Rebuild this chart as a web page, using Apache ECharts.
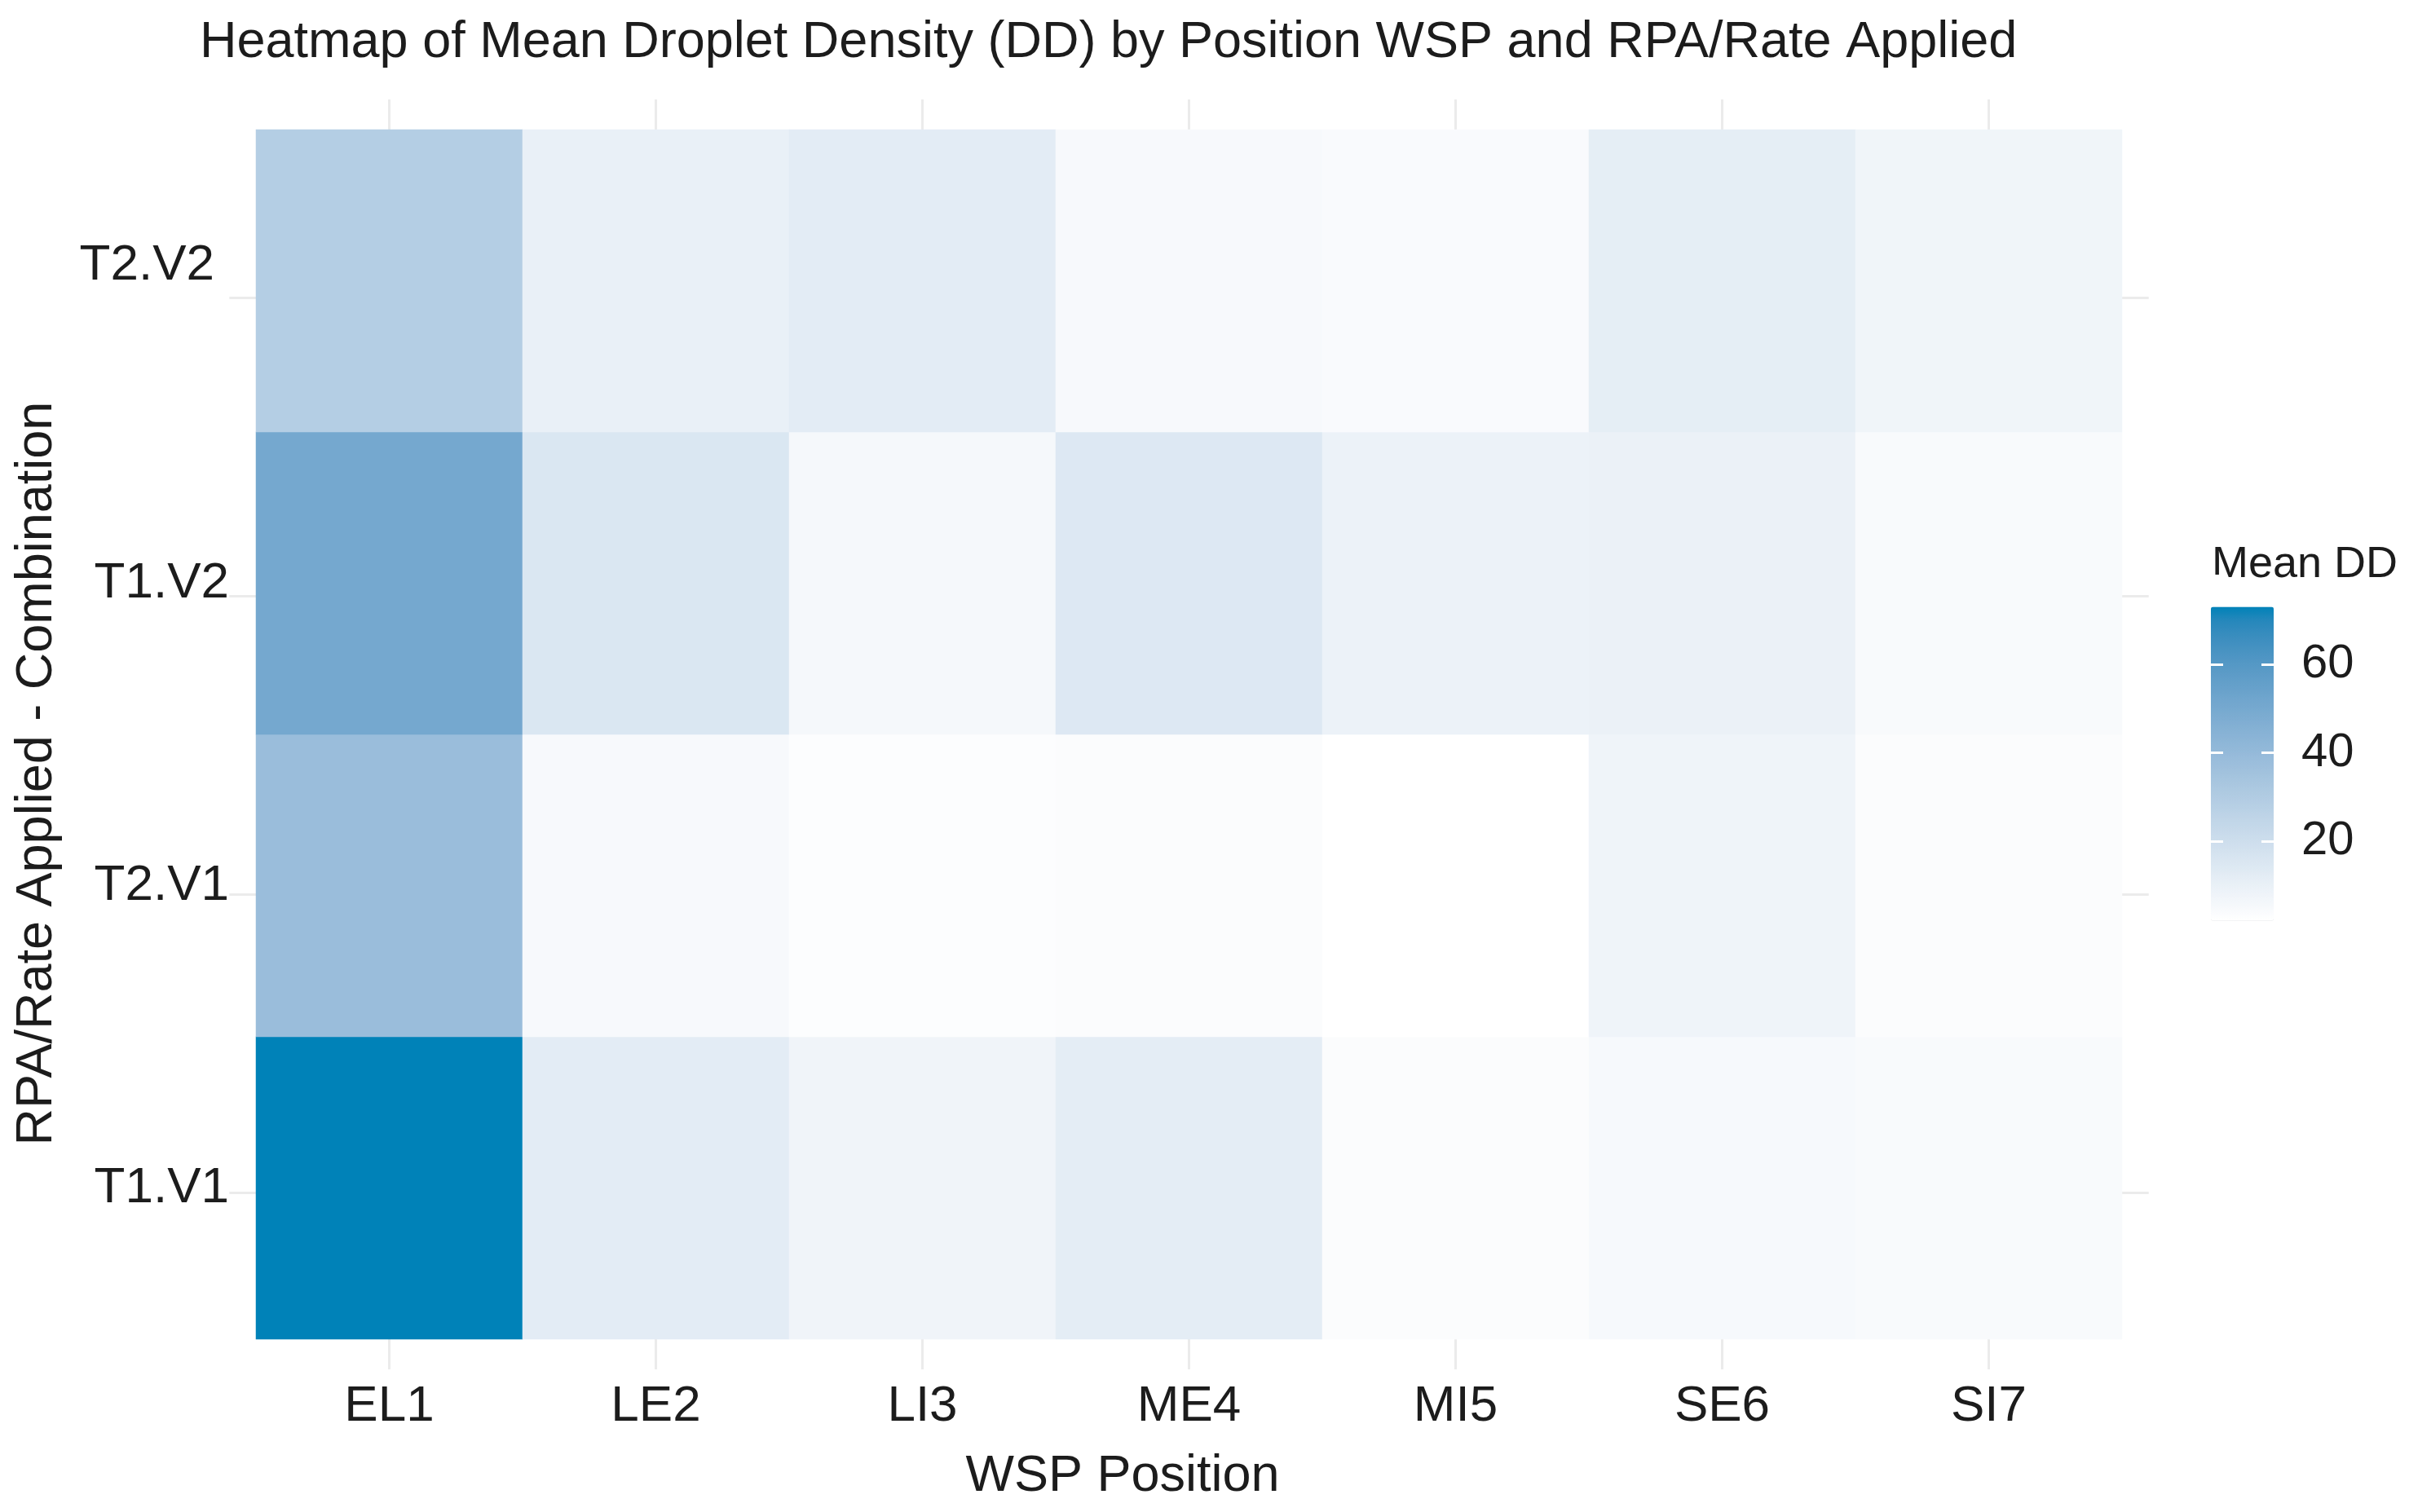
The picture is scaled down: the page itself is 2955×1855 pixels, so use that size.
<!DOCTYPE html>
<html><head><meta charset="utf-8">
<script src="https://cdn.jsdelivr.net/npm/echarts@6/dist/echarts.min.js"></script>
<style>html,body{margin:0;padding:0;background:#fff}#c{width:2955px;height:1855px}</style>
</head><body><div id="c"></div>
<script>
// ---- data ----
const xCats = ['EL1', 'LE2', 'LI3', 'ME4', 'MI5', 'SE6', 'SI7'];
const yCats = ['T1.V1', 'T2.V1', 'T1.V2', 'T2.V2'];
const ddT1V1 = [73.0, 12.2, 7.7, 11.7, 3.5, 5.2, 4.6];
const ddT2V1 = [38.3, 4.8, 3.1, 3.6, 2.0, 8.1, 3.6];
const ddT1V2 = [50.3, 15.2, 5.8, 14.2, 9.2, 9.4, 4.7];
const ddT2V2 = [28.9, 10.2, 12.2, 4.8, 4.3, 11.5, 7.6];
const legendTicks = [20, 40, 60];

const rows = [ddT1V1, ddT2V1, ddT1V2, ddT2V2];
const heatData = [];
rows.forEach((row, yi) => row.forEach((v, xi) => heatData.push([xi, yi, v])));
const allVals = rows.flat();
const dmin = Math.min(...allVals), dmax = Math.max(...allVals);

// ---- colour scale (Lab interpolation, white -> blue) ----
function lin(c){c/=255;return c<=0.04045?c/12.92:Math.pow((c+0.055)/1.055,2.4);}
function unlin(v){v=v<=0.0031308?12.92*v:1.055*Math.pow(v,1/2.4)-0.055;return Math.max(0,Math.min(255,Math.round(v*255)));}
function toLab(rgb){const r=lin(rgb[0]),g=lin(rgb[1]),b=lin(rgb[2]);
  let X=(0.4124*r+0.3576*g+0.1805*b)/0.95047,Y=0.2126*r+0.7152*g+0.0722*b,Z=(0.0193*r+0.1192*g+0.9505*b)/1.08883;
  const f=t=>t>0.008856?Math.cbrt(t):7.787*t+16/116;
  const fx=f(X),fy=f(Y),fz=f(Z);return [116*fy-16,500*(fx-fy),200*(fy-fz)];}
function fromLab(L){const fy=(L[0]+16)/116,fx=fy+L[1]/500,fz=fy-L[2]/200;
  const fi=t=>t*t*t>0.008856?t*t*t:(t-16/116)/7.787;
  const X=fi(fx)*0.95047,Y=fi(fy),Z=fi(fz)*1.08883;
  const r=3.2406*X-1.5372*Y-0.4986*Z,g=-0.9689*X+1.8758*Y+0.0415*Z,b=0.0557*X-0.2040*Y+1.0570*Z;
  return 'rgb('+unlin(r)+','+unlin(g)+','+unlin(b)+')';}
const lowLab=toLab([255,255,255]), highLab=toLab([0,130,184]);
const stops=[];
for(let i=0;i<=24;i++){const t=i/24;stops.push(fromLab([0,1,2].map(k=>lowLab[k]+(highLab[k]-lowLab[k])*t)));}

// ---- layout ----
const FONT = '"Liberation Sans", Arial, sans-serif';
const TXT = '#1c1c1c';
const GRID_COL = '#ebebeb';
const tileL = 314, tileT = 159, tileW = 2289, tileH = 1484;
const cw = tileW / xCats.length, ch = tileH / yCats.length;
const panelL = tileL - 0.1*cw, panelR = tileL + tileW + 0.1*cw;
const panelT = tileT - 0.1*ch, panelB = tileT + tileH + 0.1*ch;
// legend axis 0..80
const legTop = 706.5, legH = 434, legL = 2712, legW = 77;
const vy = v => legTop + (80 - v) / 80 * legH;

const chart = echarts.init(document.getElementById('c'), null, {renderer: 'canvas'});
chart.setOption({
  backgroundColor: '#fff',
  animation: false,
  title: {
    text: 'Heatmap of Mean Droplet Density (DD) by Position WSP and RPA/Rate Applied',
    left: 245, top: 21, padding: 0,
    textStyle: {fontSize: 63, fontWeight: 'normal', color: TXT, fontFamily: FONT}
  },
  grid: [
    {left: tileL - cw/2, width: cw * (xCats.length + 1), top: panelT, height: panelB - panelT},
    {left: panelL, width: panelR - panelL, top: tileT - ch/2, height: ch * (yCats.length + 1)},
    {left: tileL, top: tileT, width: tileW, height: tileH},
    {left: legL, top: legTop, width: legW, height: legH}
  ],
  xAxis: [
    {gridIndex: 0, type: 'category', boundaryGap: false,
     data: Array.from({length: xCats.length + 2}, (_, i) => 'gx' + i),
     axisLine: {show: false}, axisTick: {show: false}, axisLabel: {show: false},
     splitLine: {show: true, interval: (i) => i >= 1 && i <= xCats.length, lineStyle: {color: GRID_COL, width: 3}}},
    {gridIndex: 1, type: 'value', min: 0, max: 1, show: false, splitLine: {show: false}},
    {gridIndex: 2, type: 'category', data: xCats,
     axisLine: {show: false}, axisTick: {show: false}, splitLine: {show: false},
     axisLabel: {margin: 52, fontSize: 62, color: TXT, fontFamily: FONT}},
    {gridIndex: 3, type: 'value', min: 0, max: 1, show: false, splitLine: {show: false}}
  ],
  yAxis: [
    {gridIndex: 0, type: 'value', min: 0, max: 1, show: false, splitLine: {show: false}},
    {gridIndex: 1, type: 'category', boundaryGap: false,
     data: Array.from({length: yCats.length + 2}, (_, i) => 'gy' + i),
     axisLine: {show: false}, axisTick: {show: false}, axisLabel: {show: false},
     splitLine: {show: true, interval: (i) => i >= 1 && i <= yCats.length, lineStyle: {color: GRID_COL, width: 3}}},
    {gridIndex: 2, type: 'category', data: yCats,
     axisLine: {show: false}, axisTick: {show: false}, splitLine: {show: false},
     axisLabel: {margin: 33, fontSize: 62, color: TXT, fontFamily: FONT,
       formatter: v => v === 'T2.V2' ? '{s|' + v + '}' : v,
       rich: {s: {fontSize: 62, color: TXT, fontFamily: FONT, padding: [0, 18, 38, 0]}}}},
    {gridIndex: 3, type: 'value', min: 0, max: 80, interval: 20, position: 'left', z: 10,
     axisLine: {show: false}, axisLabel: {show: false}, splitLine: {show: false},
     axisTick: {show: true, inside: true, length: 15, lineStyle: {color: '#ffffff', width: 3}}},
    {gridIndex: 3, type: 'value', min: 0, max: 80, interval: 20, position: 'right', z: 10,
     axisLine: {show: false}, splitLine: {show: false},
     axisTick: {show: true, inside: true, length: 15, lineStyle: {color: '#ffffff', width: 3}},
     axisLabel: {show: true, margin: 34, fontSize: 58, color: TXT, fontFamily: FONT,
       showMinLabel: false, showMaxLabel: false,
       formatter: v => legendTicks.includes(v) ? String(v) : ''}}
  ],
  visualMap: {
    type: 'continuous', min: dmin, max: dmax, dimension: 2, seriesIndex: 0,
    calculable: false, hoverLink: false, orient: 'vertical', padding: 0,
    left: legL, top: vy(dmax), itemWidth: legW, itemHeight: vy(dmin) - vy(dmax),
    text: null, inRange: {color: stops}, z: 4
  },
  series: [{
    type: 'heatmap', xAxisIndex: 2, yAxisIndex: 2, data: heatData, z: 3,
    itemStyle: {borderWidth: 0}, emphasis: {disabled: true}, label: {show: false}
  }],
  graphic: [
    {type: 'text', x: 1377, y: 1812, style: {text: 'WSP Position', font: '63px ' + FONT, fontSize: 63, fontFamily: FONT, fill: TXT,
      textAlign: 'center', textVerticalAlign: 'middle', align: 'center', verticalAlign: 'middle'}},
    {type: 'text', x: 46, y: 949, rotation: Math.PI / 2, style: {text: 'RPA/Rate Applied - Combination', font: '63px ' + FONT, fontSize: 63, fontFamily: FONT, fill: TXT,
      textAlign: 'center', textVerticalAlign: 'middle', align: 'center', verticalAlign: 'middle'}},
    {type: 'text', x: 2713, y: 693, style: {text: 'Mean DD', font: '54px ' + FONT, fontSize: 54, fontFamily: FONT, fill: TXT,
      textAlign: 'left', textVerticalAlign: 'middle', align: 'left', verticalAlign: 'middle'}}
  ]
});
</script></body></html>
